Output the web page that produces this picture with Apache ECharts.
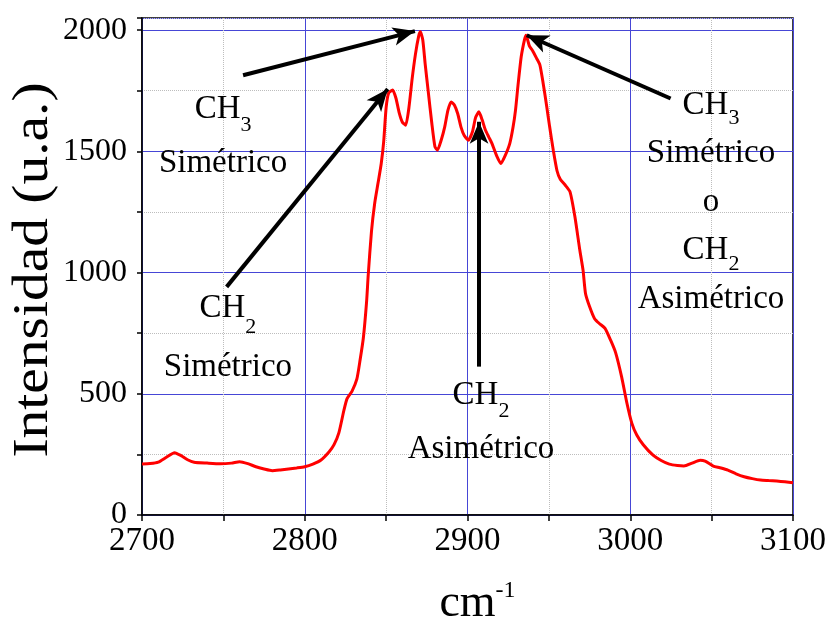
<!DOCTYPE html>
<html>
<head>
<meta charset="utf-8">
<script src="https://cdn.jsdelivr.net/npm/echarts@6/dist/echarts.min.js"></script>
<style>
  html, body { margin: 0; padding: 0; background: #fff; }
  #chart { width: 831px; height: 620px; }
</style>
</head>
<body>
<div id="chart"></div>
<script>
// Raman spectrum, C-H stretching region
const wavenumber = [
  2700, 2705, 2710, 2715, 2720, 2724, 2728, 2732, 2740, 2748,
  2755, 2760, 2765, 2770, 2775, 2780, 2785, 2790, 2795, 2800,
  2805, 2810, 2815, 2818, 2821, 2824, 2826, 2829, 2832, 2834,
  2836, 2838, 2839, 2841, 2843, 2845, 2847, 2848.5, 2850, 2851.5,
  2854, 2856, 2858, 2860, 2862, 2864, 2866, 2868, 2870, 2871,
  2872.5, 2874, 2876, 2878, 2880, 2881.5, 2884, 2886, 2888, 2890,
  2892, 2894, 2896, 2898, 2900.5, 2903, 2905, 2907, 2909, 2911,
  2913, 2915, 2918, 2920.5, 2923, 2926, 2928, 2929.5, 2931, 2933,
  2935, 2936, 2938, 2940, 2942.5, 2944.5, 2946.5, 2948.7, 2950.5, 2952.7,
  2955, 2957, 2960, 2963, 2966, 2969, 2971, 2972.5, 2975, 2978,
  2981, 2984.5, 2988, 2991, 2994.7, 2998, 3001, 3004, 3008, 3014,
  3019, 3024, 3029, 3033, 3038, 3043, 3046, 3051, 3055, 3060,
  3065, 3070, 3075, 3080, 3085, 3090, 3095, 3100
];
const intensity = [
  210, 212, 218, 238, 257, 245, 228, 218, 214, 211,
  214, 220, 212, 199, 190, 183, 186, 190, 194, 199,
  210, 227, 261, 290, 340, 430, 480, 510, 560, 639,
  730, 880, 990, 1170, 1287, 1368, 1450, 1540, 1680, 1740,
  1753, 1720, 1660, 1620, 1608, 1680, 1800, 1900, 1975, 1993,
  1960, 1860, 1739, 1620, 1519, 1505, 1550, 1601, 1670, 1704,
  1690, 1655, 1600, 1565, 1546, 1580, 1640, 1663, 1630, 1588,
  1560, 1533, 1480, 1450, 1480, 1533, 1600, 1670, 1770, 1890,
  1960, 1979, 1935, 1915, 1883, 1856, 1780, 1684, 1600, 1505,
  1420, 1385, 1361, 1333, 1230, 1093, 1010, 914, 860, 811,
  790, 770, 720, 670, 570, 460, 378, 330, 290, 247,
  225, 210, 204, 202, 214, 226, 222, 202, 195, 185,
  170, 158, 150, 144, 142, 140, 137, 133
];

// Axis ranges and tick steps
const xRange = [2700, 3100];
const xStep = 100;
const yRange = [0, 2050];
const yStep = 500;
const yMinorStep = 250;

// Band assignments: arrows go from [wavenumber, intensity] tail to head
const arrowTails = [[2762.1, 1814], [2752.0, 941], [2907.1, 612], [3024.8, 1718]];
const arrowHeads = [[2867.7, 1996], [2851.0, 1757], [2907.1, 1622], [2936.4, 1979]];

// Band labels, centred at [wavenumber, intensity]
const bandLabels = [
  { at: [2749.8, 1563], lines: [['CH', '3'], ['Simétrico']], gap: 54 },
  { at: [2752.8, 730], lines: [['CH', '2'], ['Simétrico']], gap: 59 },
  { at: [2908.3, 383.5], lines: [['CH', '2'], ['Asimétrico']], gap: 54 },
  { at: [3049.6, 1291], lines: [['CH', '3'], ['Simétrico'], ['o'], ['CH', '2'], ['Asimétrico']], gap: 48.5 }
];

const serif = '"Liberation Serif", "Times New Roman", serif';
const chart = echarts.init(document.getElementById('chart'), null, { renderer: 'canvas' });

const seriesData = wavenumber.map((w, i) => [w, intensity[i]]);

chart.setOption({
  animation: false,
  backgroundColor: '#ffffff',
  grid: {
    left: 142, right: 38, top: 18, bottom: 105,
    containLabel: false, outerBoundsMode: 'none',
    show: true, borderColor: '#000', borderWidth: 1.5, backgroundColor: 'transparent'
  },
  xAxis: {
    type: 'value',
    min: xRange[0], max: xRange[1], interval: xStep,
    axisLine: { show: true, lineStyle: { color: '#000', width: 1.5 } },
    axisTick: { show: true, inside: false, length: 6, lineStyle: { color: '#000', width: 1.5 } },
    minorTick: { show: true, splitNumber: 2, length: 6, lineStyle: { color: '#000', width: 1.5 } },
    axisLabel: { color: '#000', fontFamily: serif, fontSize: 33, margin: 10, formatter: v => String(v) },
    splitLine: { show: true, lineStyle: { color: '#4646d6', width: 1 } },
    minorSplitLine: { show: true, lineStyle: { color: '#bdbdbd', width: 1, type: 'dotted' } },
    name: '{b|cm}{s|-1}',
    nameLocation: 'middle',
    nameGap: 64,
    nameTextStyle: {
      rich: {
        b: { fontFamily: serif, fontSize: 46, color: '#000', lineHeight: 50, padding: [0, 0, 0, 20] },
        s: { fontFamily: serif, fontSize: 24, color: '#000', lineHeight: 16, verticalAlign: 'top' }
      }
    }
  },
  yAxis: [
    {
      type: 'value',
      position: 'left',
      min: yRange[0], max: yRange[1], interval: yStep,
      axisLine: { show: true, lineStyle: { color: '#000', width: 1.5 } },
      axisTick: { show: true, inside: false, length: 5, lineStyle: { color: '#000', width: 1.5 } },
      axisLabel: {
        color: '#000', fontFamily: serif, fontSize: 32, margin: 15,
        formatter: v => (v % yStep === 0 ? String(v) : '')
      },
      splitLine: { show: true, lineStyle: { color: '#4646d6', width: 1 } }
    },
    {
      type: 'value',
      position: 'left',
      offset: 0,
      min: yRange[0], max: yRange[1], interval: yMinorStep,
      axisLine: { show: false },
      axisTick: { show: true, inside: false, length: 5, lineStyle: { color: '#000', width: 1.5 } },
      axisLabel: { show: false },
      splitLine: { show: true, lineStyle: { color: ['transparent', '#bdbdbd'], width: 1, type: 'dotted' } }
    }
  ],
  series: [{
    type: 'line',
    yAxisIndex: 0,
    data: seriesData,
    showSymbol: false,
    smooth: 0.2,
    lineStyle: { color: '#ff0000', width: 3 },
    z: 3,
    markLine: {
      silent: true,
      animation: false,
      symbol: ['none', 'arrow'],
      symbolSize: [14, 22],
      label: { show: false },
      lineStyle: { color: '#000', width: 4, type: 'solid' },
      emphasis: { disabled: true },
      data: arrowTails.map((t, i) => [{ coord: t }, { coord: arrowHeads[i] }])
    }
  }]
});

// Band labels and the rotated y-axis title
const richStyles = {
  m: { fontFamily: serif, fontSize: 33, color: '#111' },
  s: { fontFamily: serif, fontSize: 22, color: '#111', lineHeight: 14, verticalAlign: 'bottom' }
};
const graphics = bandLabels.map(lbl => {
  const p = chart.convertToPixel({ gridIndex: 0 }, lbl.at);
  const text = lbl.lines.map(parts =>
    parts.length > 1 ? `{m|${parts[0]}}{s|${parts[1]}}` : `{m|${parts[0]}}`
  ).join('\n');
  const rich = {
    m: Object.assign({}, richStyles.m, { lineHeight: lbl.gap }),
    s: Object.assign({}, richStyles.s)
  };
  return {
    type: 'text', x: p[0], y: p[1], z: 10,
    style: { text, rich, align: 'center', verticalAlign: 'middle' }
  };
});
graphics.push({
  type: 'text', x: 34, y: 270, rotation: Math.PI / 2, scaleX: 1.15, z: 10,
  style: {
    text: 'Intensidad (u.a.)', fontFamily: serif, fontSize: 50, fill: '#000',
    align: 'center', verticalAlign: 'middle'
  }
});
chart.setOption({ graphic: graphics });
</script>
</body>
</html>
